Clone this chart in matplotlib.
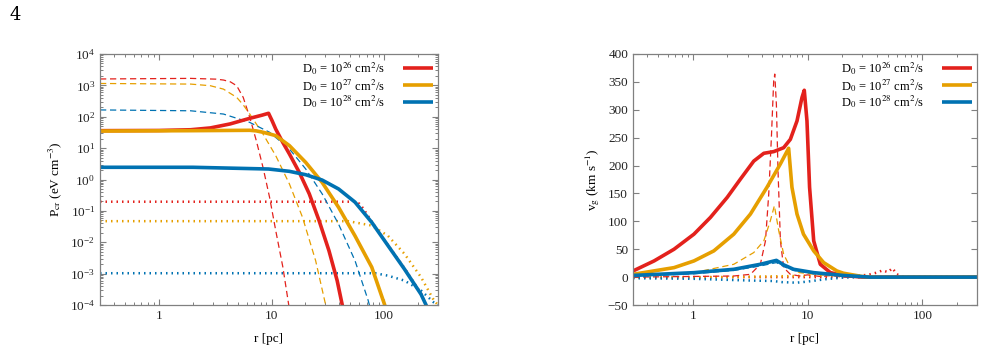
import numpy as np
import matplotlib
matplotlib.use("Agg")
import matplotlib.pyplot as plt
from matplotlib.ticker import LogLocator, NullFormatter, FixedLocator

plt.rcParams['font.family'] = ['Liberation Serif', 'DejaVu Serif']
plt.rcParams['mathtext.fontset'] = 'stix'

RED = '#e3211c'
ORANGE = '#e69f00'
BLUE = '#0072b2'
labels = [r'D$_0$ = 10$^{26}$ cm$^2$/s', r'D$_0$ = 10$^{27}$ cm$^2$/s', r'D$_0$ = 10$^{28}$ cm$^2$/s']

# ---- left panel: P_cr (eV cm^-3) vs r (pc) ----
p_red_solid_r = [0.3, 1, 1.91, 2.86, 4.28, 6.4, 8.2, 9.4, 10.1, 10.9, 12.6, 14.4, 17.6, 21.6, 26.4, 32.3, 38.2, 42.4, 44]
p_red_solid = [36, 36.5, 38.5, 44, 59, 89, 112, 129, 75, 40, 15, 6.5, 1.7, 0.35, 0.049, 0.0054, 6e-4, 1e-4, 5e-5]
p_orange_solid_r = [0.3, 2, 6.4, 7.3, 8.4, 10.9, 14.4, 20.1, 28.1, 39.3, 55, 77.5, 101, 105]
p_orange_solid = [35, 36, 37, 35.5, 32, 25, 12, 3.5, 0.81, 0.13, 0.016, 0.0016, 1e-4, 6e-5]
p_blue_solid_r = [0.3, 2, 9.4, 14.4, 20.1, 28.1, 39.3, 55, 77.5, 108, 151, 212, 235, 245]
p_blue_solid = [2.45, 2.45, 2.16, 1.82, 1.42, 0.96, 0.5, 0.19, 0.043, 0.0078, 0.0014, 2.2e-4, 1e-4, 7e-5]

p_red_dash_r = [0.3, 1.91, 3.2, 3.74, 4.3, 4.9, 5.6, 6.4, 7.33, 8.4, 9.6, 10.9, 12.6, 14.2, 15]
p_red_dash = [1600, 1670, 1580, 1480, 1300, 975, 415, 96, 17, 2.4, 0.27, 0.023, 0.0016, 1e-4, 3e-5]
p_orange_dash_r = [0.3, 1.91, 2.86, 3.74, 4.9, 5.6, 6.4, 8.4, 10.9, 14.4, 18.8, 24.6, 30.2, 32]
p_orange_dash = [1150, 1100, 975, 760, 415, 240, 122, 28, 5.7, 0.72, 0.063, 0.0026, 1e-4, 4e-5]
p_blue_dash_r = [0.3, 1.91, 3.74, 6.4, 9.6, 14.4, 20.1, 28.1, 39.3, 55, 72, 75]
p_blue_dash = [165, 155, 122, 66, 32, 9.4, 2.16, 0.35, 0.038, 0.0026, 1.4e-4, 8e-5]

p_red_dot_r = [0.3, 55, 60, 65, 77.5, 108, 151, 212, 235, 245]
p_red_dot = [0.196, 0.196, 0.17, 0.12, 0.045, 0.008, 0.0015, 2.3e-4, 1e-4, 7e-5]
p_orange_dot_r = [0.3, 48, 77.5, 108, 151, 212, 276, 300]
p_orange_dot = [0.047, 0.047, 0.034, 0.016, 0.0043, 7.7e-4, 1.4e-4, 1e-4]
p_blue_dot_r = [0.3, 83, 108, 151, 212, 276, 300]
p_blue_dot = [1.03e-3, 1.03e-3, 8.6e-4, 6e-4, 2.9e-4, 1.2e-4, 1e-4]

# ---- right panel: v_g (km/s) vs r (pc) ----
v_red_solid_r = [0.3, 0.458, 0.684, 1.02, 1.42, 1.99, 2.6, 3.39, 4.15, 5.06, 6.18, 7.07, 8.08, 8.93, 9.35,
                 9.87, 10.4, 11.3, 12.9, 15.8, 20.5, 30, 300]
v_red_solid = [11, 29, 50, 77, 107, 143, 176, 208, 222, 225, 232, 247, 280, 322, 335,
               280, 161, 65, 23, 8, 3, 0, 0]
v_orange_solid_r = [0.3, 0.684, 1.02, 1.52, 2.27, 3.17, 4.42, 5.79, 6.83, 7.3, 8.08, 9.2, 11.3, 13.8, 18,
                    20.5, 30, 40, 300]
v_orange_solid = [5, 17, 29, 47, 77, 113, 161, 203, 231, 161, 113, 77, 47, 26, 11,
                  7, 1, 0, 0]
v_blue_solid_r = [0.3, 1.02, 2.27, 3.87, 5.34, 6.18, 7.55, 11.3, 20.5, 35, 300]
v_blue_solid = [3, 8, 14, 23, 30, 22, 14, 8, 3, 0, 0]

v_red_dash_r = [0.3, 2.27, 3.17, 3.87, 4.29, 4.58, 4.83, 5.06, 5.17, 5.34, 5.52, 5.79, 6.18, 7.07, 8.5,
                10, 13, 16, 20, 300]
v_red_dash = [0, 2, 5, 23, 65, 149, 250, 352, 364, 310, 190, 65, 17, 5, 2,
              4, 1, 3, 0, 0]
v_orange_dash_r = [0.3, 1.02, 2.27, 3.39, 4.15, 4.73, 5.13, 5.6, 6.18, 7.07, 8.5, 12.9, 25, 300]
v_orange_dash = [2, 8, 23, 44, 65, 101, 128, 83, 41, 17, 8, 4, 0, 0]
v_blue_dash_r = [0.3, 1.02, 2.27, 3.87, 5.34, 6.18, 7.55, 11.3, 20.5, 35, 300]
v_blue_dash = [1, 6, 12, 20, 26, 19, 12, 6, 2, 0, 0]

v_red_dot_r = [0.3, 20, 25, 30, 35, 40, 45, 50, 55, 60, 70, 300]
v_red_dot = [0, 0, 2, 3, 5, 8, 12, 9, 16, 5, 0, 0]
v_orange_dot_r = [0.3, 2, 4, 8, 15, 22, 30, 40, 300]
v_orange_dot = [-1, 0, 1, 2, 3, 4, 2, 0, 0]
v_blue_dot_r = [0.3, 1, 3, 5, 6, 8, 10, 14, 20, 30, 300]
v_blue_dot = [-2, -3, -6, -7, -9, -10, -8, -4, -1, 0, 0]

fig = plt.figure(figsize=(9.84, 3.52), dpi=100)
ax1 = fig.add_axes([100 / 984, 47 / 352, 338 / 984, 251 / 352])
ax2 = fig.add_axes([633 / 984, 47 / 352, 344 / 984, 251 / 352])
fig.text(10 / 984, 1 - 20 / 352, '4', fontsize=13, family='DejaVu Serif')

colors = [RED, ORANGE, BLUE]


def draw(ax, solid, dash, dot):
    for (r, y), c in zip(dot, colors):
        ax.plot(r, y, color=c, lw=1.8, ls=(0, (0.6, 1.6)))
    for (r, y), c in zip(dash, colors):
        ax.plot(r, y, color=c, lw=0.9, ls=(0, (5, 3)))
    hs = []
    for (r, y), c, lab in zip(solid, colors, labels):
        h, = ax.plot(r, y, color=c, lw=2.6, label=lab, solid_capstyle='butt')
        hs.append(h)
    ax.legend(handles=hs, loc='upper right', frameon=False, markerfirst=False,
              fontsize=9, handlelength=2.4, labelspacing=0.0,
              borderaxespad=0.1, borderpad=0.3, handletextpad=1.4)


def style(ax):
    for s in ax.spines.values():
        s.set_color('#808080')
        s.set_linewidth(0.9)
    ax.tick_params(which='both', direction='in', top=True, right=True,
                   color='#808080', labelsize=9.5, labelcolor='#222222')
    ax.tick_params(which='major', length=4, width=0.8)
    ax.tick_params(which='minor', length=2.2, width=0.7)
    ax.set_xscale('log')
    ax.set_xlim(0.3, 300)
    ax.xaxis.set_major_locator(FixedLocator([1, 10, 100]))
    ax.set_xticklabels(['1', '10', '100'])
    ax.xaxis.set_minor_locator(LogLocator(base=10, subs=np.arange(2, 10), numticks=20))
    ax.xaxis.set_minor_formatter(NullFormatter())
    ax.set_xlabel('r [pc]', fontsize=9.5, labelpad=8)


draw(ax1,
     [(p_red_solid_r, p_red_solid), (p_orange_solid_r, p_orange_solid), (p_blue_solid_r, p_blue_solid)],
     [(p_red_dash_r, p_red_dash), (p_orange_dash_r, p_orange_dash), (p_blue_dash_r, p_blue_dash)],
     [(p_red_dot_r, p_red_dot), (p_orange_dot_r, p_orange_dot), (p_blue_dot_r, p_blue_dot)])
style(ax1)
ax1.set_yscale('log')
ax1.set_ylim(1e-4, 1e4)
ax1.yaxis.set_major_locator(LogLocator(base=10, numticks=20))
ax1.yaxis.set_minor_locator(LogLocator(base=10, subs=np.arange(2, 10), numticks=20))
ax1.yaxis.set_minor_formatter(NullFormatter())
ax1.set_ylabel(r'P$_{\rm cr}$ (eV cm$^{-3}$)', fontsize=9.5, labelpad=4)

draw(ax2,
     [(v_red_solid_r, v_red_solid), (v_orange_solid_r, v_orange_solid), (v_blue_solid_r, v_blue_solid)],
     [(v_red_dash_r, v_red_dash), (v_orange_dash_r, v_orange_dash), (v_blue_dash_r, v_blue_dash)],
     [(v_red_dot_r, v_red_dot), (v_orange_dot_r, v_orange_dot), (v_blue_dot_r, v_blue_dot)])
style(ax2)
ax2.set_ylim(-50, 400)
ax2.set_yticks(np.arange(-50, 401, 50))
ax2.set_ylabel(r'v$_{\rm g}$ (km s$^{-1}$)', fontsize=9.5, labelpad=4)

fig.savefig('out.png', dpi=100)
